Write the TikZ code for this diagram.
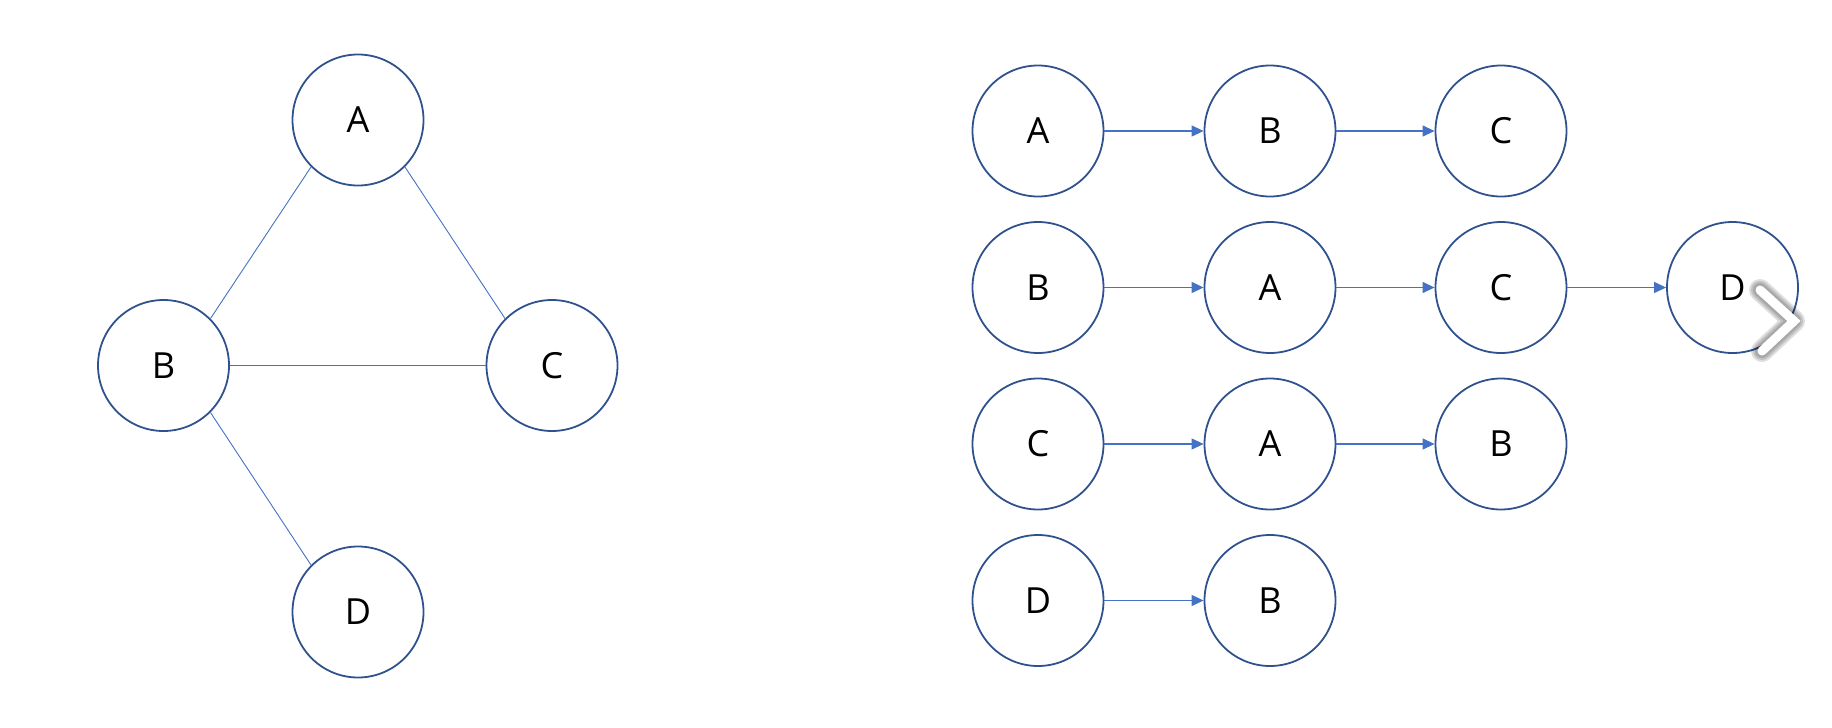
\documentclass[tikz,border=0pt]{standalone}
\usepackage{fontspec}
\setmainfont{Open Sans}
\usetikzlibrary{arrows.meta}
\definecolor{ringblue}{HTML}{2F528F}
\definecolor{lineblue}{HTML}{4472C4}
\begin{document}
\begin{tikzpicture}[x=1pt,y=-1pt,
  vtx/.style={circle,draw=ringblue,line width=1.8pt,minimum size=131pt,inner sep=0pt,font=\fontsize{36}{42}\selectfont},
  edge/.style={draw=lineblue,line width=0.9pt},
  arr/.style={draw=lineblue,line width=1.2pt,-{Triangle[length=12pt,width=11pt]}},
  shade/.style={black,line cap=round,line join=round,opacity=0.13}]
\useasboundingbox (0,0) rectangle (1832,728);
% left graph
\node[vtx] (A) at (358,120) {A};
\node[vtx] (B) at (163.5,365.5) {B};
\node[vtx] (C) at (552,365.5) {C};
\node[vtx] (D) at (358,612) {D};
\draw[edge] (A.south west) -- (B.north east);
\draw[edge] (A.south east) -- (C.north west);
\draw[edge] (B.east) -- (C.west);
\draw[edge] (B.south east) -- (D.north west);
% adjacency lists
\node[vtx] (r1a) at (1038,131) {A};
\node[vtx] (r1b) at (1270,131) {B};
\node[vtx] (r1c) at (1501,131) {C};
\draw[arr] (r1a) -- (r1b);
\draw[arr] (r1b) -- (r1c);
\node[vtx] (r2b) at (1038,287.5) {B};
\node[vtx] (r2a) at (1270,287.5) {A};
\node[vtx] (r2c) at (1501,287.5) {C};
\node[vtx] (r2d) at (1732.5,287.5) {D};
\draw[arr] (r2b) -- (r2a);
\draw[arr] (r2a) -- (r2c);
\draw[arr] (r2c) -- (r2d);
\node[vtx] (r3c) at (1038,444) {C};
\node[vtx] (r3a) at (1270,444) {A};
\node[vtx] (r3b) at (1501,444) {B};
\draw[arr] (r3c) -- (r3a);
\draw[arr] (r3a) -- (r3b);
\node[vtx] (r4d) at (1038,600.5) {D};
\node[vtx] (r4b) at (1270,600.5) {B};
\draw[arr] (r4d) -- (r4b);
% chevron overlay
\coordinate (ch1) at (1760,290);
\coordinate (ch2) at (1794,321);
\coordinate (ch3) at (1762,351);
\draw[shade,line width=22pt] (ch1) -- (ch2) -- (ch3);
\draw[shade,line width=18pt] (ch1) -- (ch2) -- (ch3);
\draw[shade,line width=14pt] (ch1) -- (ch2) -- (ch3);
\draw[white,line width=9pt,line cap=round,line join=miter] (ch1) -- (ch2) -- (ch3);
\end{tikzpicture}
\end{document}
